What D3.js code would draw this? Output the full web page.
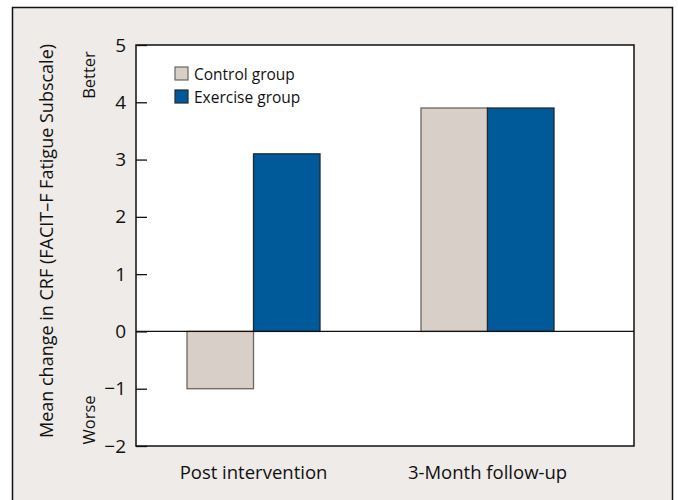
<!DOCTYPE html>
<html><head><meta charset="utf-8">
<script src="https://cdn.jsdelivr.net/npm/d3@7"></script>
<style>body{margin:0;background:#fff}svg{display:block}text{font-family:"Open Sans",sans-serif;fill:#111}</style>
</head><body><svg id="c" width="678" height="500"></svg>
<script>
const categories = ["Post intervention", "3-Month follow-up"];
const seriesNames = ["Control group", "Exercise group"];
const controlValues = [-1.0, 3.9];
const exerciseValues = [3.1, 3.9];
const yTicks = [-2, -1, 0, 1, 2, 3, 4, 5];
const colors = ["#d8d0c8", "#005a9a"];
const strokes = ["#6b6661", "#1f2a33"];

const svg = d3.select("#c");
svg.append("rect").attr("x", 12.5).attr("y", 7.5).attr("width", 660).attr("height", 500)
  .attr("fill", "#efebe8").attr("stroke", "#111").attr("stroke-width", 1.5);

const plot = {l: 136, r: 634, t: 45, b: 446};
const y = d3.scaleLinear().domain([-2, 5]).range([plot.b, plot.t]);
const x0 = d3.scaleBand().domain(categories).range([plot.l, plot.l + 469]).paddingInner(0.4316).paddingOuter(0.218);
const x1 = d3.scaleBand().domain(seriesNames).range([0, x0.bandwidth()]);

svg.append("rect").attr("x", plot.l).attr("y", plot.t).attr("width", plot.r - plot.l).attr("height", plot.b - plot.t)
  .attr("fill", "#fff");

const data = categories.map((c, i) => ({cat: c, vals: [controlValues[i], exerciseValues[i]]}));
const g = svg.append("g");
data.forEach(d => {
  d.vals.forEach((v, j) => {
    g.append("rect")
      .attr("x", x0(d.cat) + x1(seriesNames[j]))
      .attr("y", y(Math.max(0, v)))
      .attr("width", x1.bandwidth())
      .attr("height", Math.abs(y(v) - y(0)))
      .attr("fill", colors[j]).attr("stroke", strokes[j]).attr("stroke-width", 1.3);
  });
});

// zero line
svg.append("line").attr("x1", plot.l).attr("x2", plot.r).attr("y1", y(0)).attr("y2", y(0))
  .attr("stroke", "#111").attr("stroke-width", 1.3);

// frame
svg.append("rect").attr("x", plot.l).attr("y", plot.t).attr("width", plot.r - plot.l).attr("height", plot.b - plot.t)
  .attr("fill", "none").attr("stroke", "#111").attr("stroke-width", 1.5);

// y axis
const yAxis = d3.axisRight(y).tickValues(yTicks).tickSize(11).tickFormat(d => d < 0 ? "\u2212" + Math.abs(d) : d);
const ya = svg.append("g").attr("transform", `translate(${plot.l},0)`).call(yAxis);
ya.select(".domain").remove();
ya.selectAll(".tick line").attr("stroke", "#111").attr("stroke-width", 1.3);
ya.selectAll(".tick text").attr("x", -10).attr("text-anchor", "end").attr("font-size", 19)
  .attr("font-family", "'Open Sans',sans-serif").attr("fill", "#111");

// x labels
const xa = svg.append("g").attr("transform", `translate(0,${plot.b})`)
  .call(d3.axisBottom(x0).tickSize(0).tickPadding(20));
xa.select(".domain").remove();
xa.selectAll(".tick text").attr("font-size", 18.5).attr("font-family", "'Open Sans',sans-serif").attr("fill", "#111");

// y title
svg.append("text").attr("transform", "translate(53,241) rotate(-90)").attr("text-anchor", "middle")
  .attr("font-size", 18).text("Mean change in CRF (FACIT\u2013F Fatigue Subscale)");
svg.append("text").attr("transform", "translate(95,75) rotate(-90)").attr("text-anchor", "middle")
  .attr("font-size", 16.5).text("Better");
svg.append("text").attr("transform", "translate(95,420) rotate(-90)").attr("text-anchor", "middle")
  .attr("font-size", 16.5).text("Worse");

// legend
const leg = svg.append("g").attr("transform", "translate(175,67)");
seriesNames.forEach((s, i) => {
  leg.append("rect").attr("x", 0).attr("y", i * 23).attr("width", 13).attr("height", 13)
    .attr("fill", colors[i]).attr("stroke", strokes[i]).attr("stroke-width", 1.2);
  leg.append("text").attr("x", 19).attr("y", i * 23 + 12.5).attr("font-size", 15.5).text(s);
});
</script></body></html>
